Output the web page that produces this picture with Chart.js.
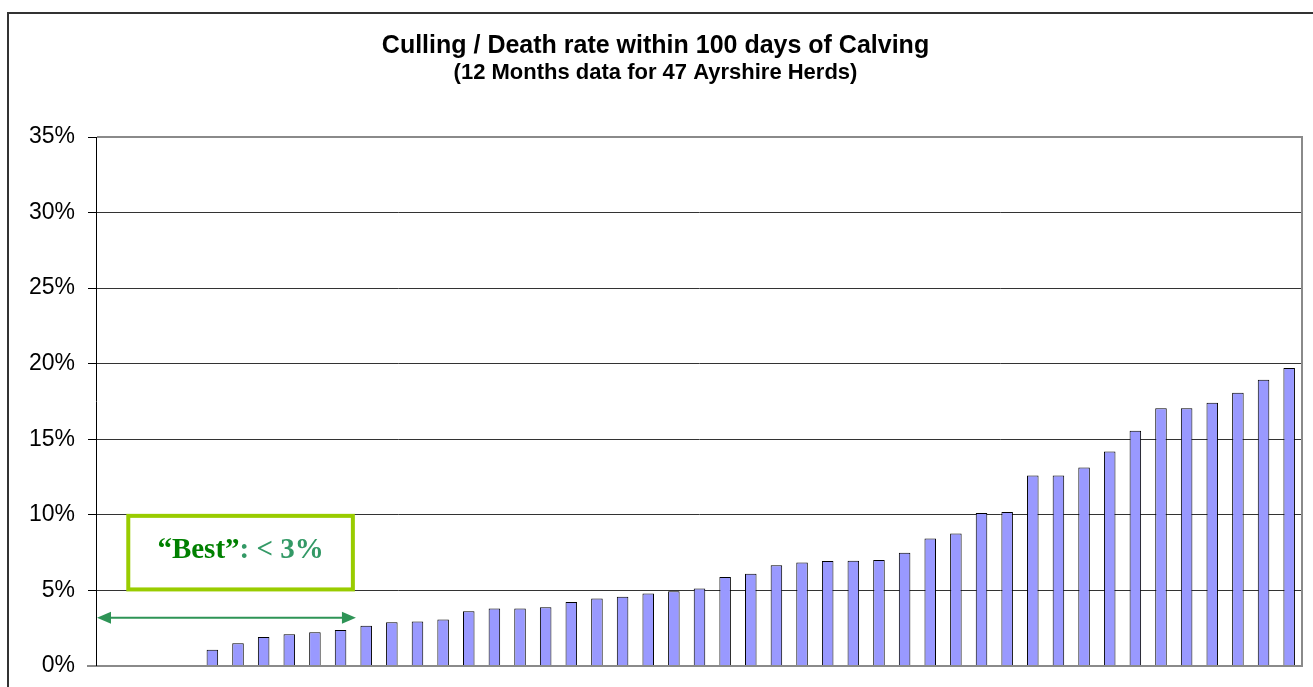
<!DOCTYPE html>
<html>
<head>
<meta charset="utf-8">
<script src="https://cdn.jsdelivr.net/npm/chart.js@4.4.1/dist/chart.umd.min.js"></script>
<style>
  html, body { margin: 0; padding: 0; background: #fff; overflow: hidden; }
  #frame {
    position: absolute; left: 7px; top: 12px;
    width: 1320px; height: 690px;
    border-left: 2px solid #333; border-top: 2px solid #333;
  }
  #chart { display: block; }
</style>
</head>
<body>
<div id="frame"><canvas id="chart" width="1304" height="673"></canvas></div>
<script>
// herds sorted by rate, 47 herds
const herds = Array.from({ length: 47 }, (_, i) => 'Herd ' + (i + 1));
const cullRate = [
  0, 0, 0, 0, 1.08, 1.5, 1.92, 2.1, 2.23, 2.38,
  2.67, 2.89, 2.94, 3.08, 3.62, 3.8, 3.8, 3.88, 4.23, 4.46,
  4.59, 4.79, 4.94, 5.12, 5.89, 6.11, 6.66, 6.84, 6.94, 6.97,
  7.01, 7.5, 8.43, 8.76, 10.12, 10.19, 12.61, 12.61, 13.14, 14.2,
  15.57, 17.06, 17.06, 17.42, 18.08, 18.94, 19.71
];
const yMax = 35;
const yStep = 5;

const titleText = 'Culling / Death rate within 100 days of Calving';
const subtitleText = '(12 Months data for 47 Ayrshire Herds)';

// "best" note: box between 5% and 10%, arrow at ~3.2%
const bestBox = { fromIdx: 0.72, toIdx: 9.48, low: 5, high: 10 };
const bestArrow = { toIdx: 9.6, level: 3.2 };

const notes = {
  id: 'notes',
  afterDraw(chart) {
    const { ctx, chartArea: a, scales: { x, y } } = chart;
    const step = x.getPixelForValue(1) - x.getPixelForValue(0);
    const px = i => x.getPixelForValue(0) + i * step;

    // plot frame (grey top/right/bottom), black value axis
    ctx.save();
    ctx.strokeStyle = '#8a8a8a';
    ctx.lineWidth = 2;
    ctx.beginPath();
    ctx.moveTo(a.left, a.top);
    ctx.lineTo(a.right, a.top);
    ctx.lineTo(a.right, a.bottom);
    ctx.lineTo(a.left - 10, a.bottom);
    ctx.stroke();
    ctx.strokeStyle = '#000';
    ctx.lineWidth = 1;
    ctx.beginPath();
    ctx.moveTo(a.left - 0.5, a.top);
    ctx.lineTo(a.left - 0.5, a.bottom);
    ctx.stroke();

    // box
    const bx1 = px(bestBox.fromIdx), bx2 = px(bestBox.toIdx);
    const by1 = y.getPixelForValue(bestBox.high), by2 = y.getPixelForValue(bestBox.low);
    ctx.strokeStyle = '#99cc00';
    ctx.lineWidth = 4;
    ctx.strokeRect(bx1, by1 + 1, bx2 - bx1, by2 - by1 - 2);

    ctx.font = 'bold 29px "Liberation Serif", "Times New Roman", serif';
    ctx.textBaseline = 'alphabetic';
    const t1 = '\u201CBest\u201D', t2 = ': < 3%';
    const w1 = ctx.measureText(t1).width, w2 = ctx.measureText(t2).width;
    let tx = (bx1 + bx2) / 2 - (w1 + w2) / 2;
    const ty = (by1 + by2) / 2 + 5;
    ctx.textAlign = 'left';
    ctx.fillStyle = '#008000';
    ctx.fillText(t1, tx, ty);
    ctx.fillStyle = '#339966';
    ctx.fillText(t2, tx + w1, ty);

    // double arrow
    const ax1 = a.left, ax2 = px(bestArrow.toIdx);
    const ay = y.getPixelForValue(bestArrow.level);
    ctx.strokeStyle = '#2e9456';
    ctx.fillStyle = '#2e9456';
    ctx.lineWidth = 2;
    ctx.beginPath();
    ctx.moveTo(ax1 + 10, ay);
    ctx.lineTo(ax2 - 10, ay);
    ctx.stroke();
    ctx.beginPath();
    ctx.moveTo(ax1, ay); ctx.lineTo(ax1 + 14, ay - 6); ctx.lineTo(ax1 + 14, ay + 6); ctx.closePath();
    ctx.fill();
    ctx.beginPath();
    ctx.moveTo(ax2, ay); ctx.lineTo(ax2 - 14, ay - 6); ctx.lineTo(ax2 - 14, ay + 6); ctx.closePath();
    ctx.fill();
    ctx.restore();
  }
};

new Chart(document.getElementById('chart'), {
  type: 'bar',
  data: {
    labels: herds,
    datasets: [{
      label: 'Cull rate',
      data: cullRate,
      backgroundColor: '#9999ff',
      borderColor: '#000',
      borderWidth: 1,
      barPercentage: 0.45,
      categoryPercentage: 1
    }]
  },
  options: {
    responsive: false,
    animation: false,
    devicePixelRatio: 1,
    layout: { padding: { left: 0, right: 11, top: 0, bottom: 21 } },
    plugins: {
      legend: { display: false },
      tooltip: { enabled: false },
      title: {
        display: true, text: titleText, color: '#000',
        font: { family: 'Arial, "Liberation Sans", sans-serif', size: 25, weight: 'bold', lineHeight: 1 },
        padding: { top: 20, bottom: 1 }
      },
      subtitle: {
        display: true, text: subtitleText, color: '#000',
        font: { family: 'Arial, "Liberation Sans", sans-serif', size: 22, weight: 'bold', lineHeight: 1 },
        padding: { top: 2, bottom: 53 }
      }
    },
    scales: {
      x: { display: false },
      y: {
        min: 0, max: yMax,
        afterFit: s => { s.width = 88; s.paddingBottom = 0; },
        border: { display: false },
        grid: { color: '#333', lineWidth: 1, tickLength: 9, tickColor: '#000' },
        ticks: {
          stepSize: yStep, padding: 13, color: '#000',
          font: { family: 'Arial, "Liberation Sans", sans-serif', size: 23 },
          callback: v => v + '%'
        }
      }
    }
  },
  plugins: [notes]
});
</script>
</body>
</html>
